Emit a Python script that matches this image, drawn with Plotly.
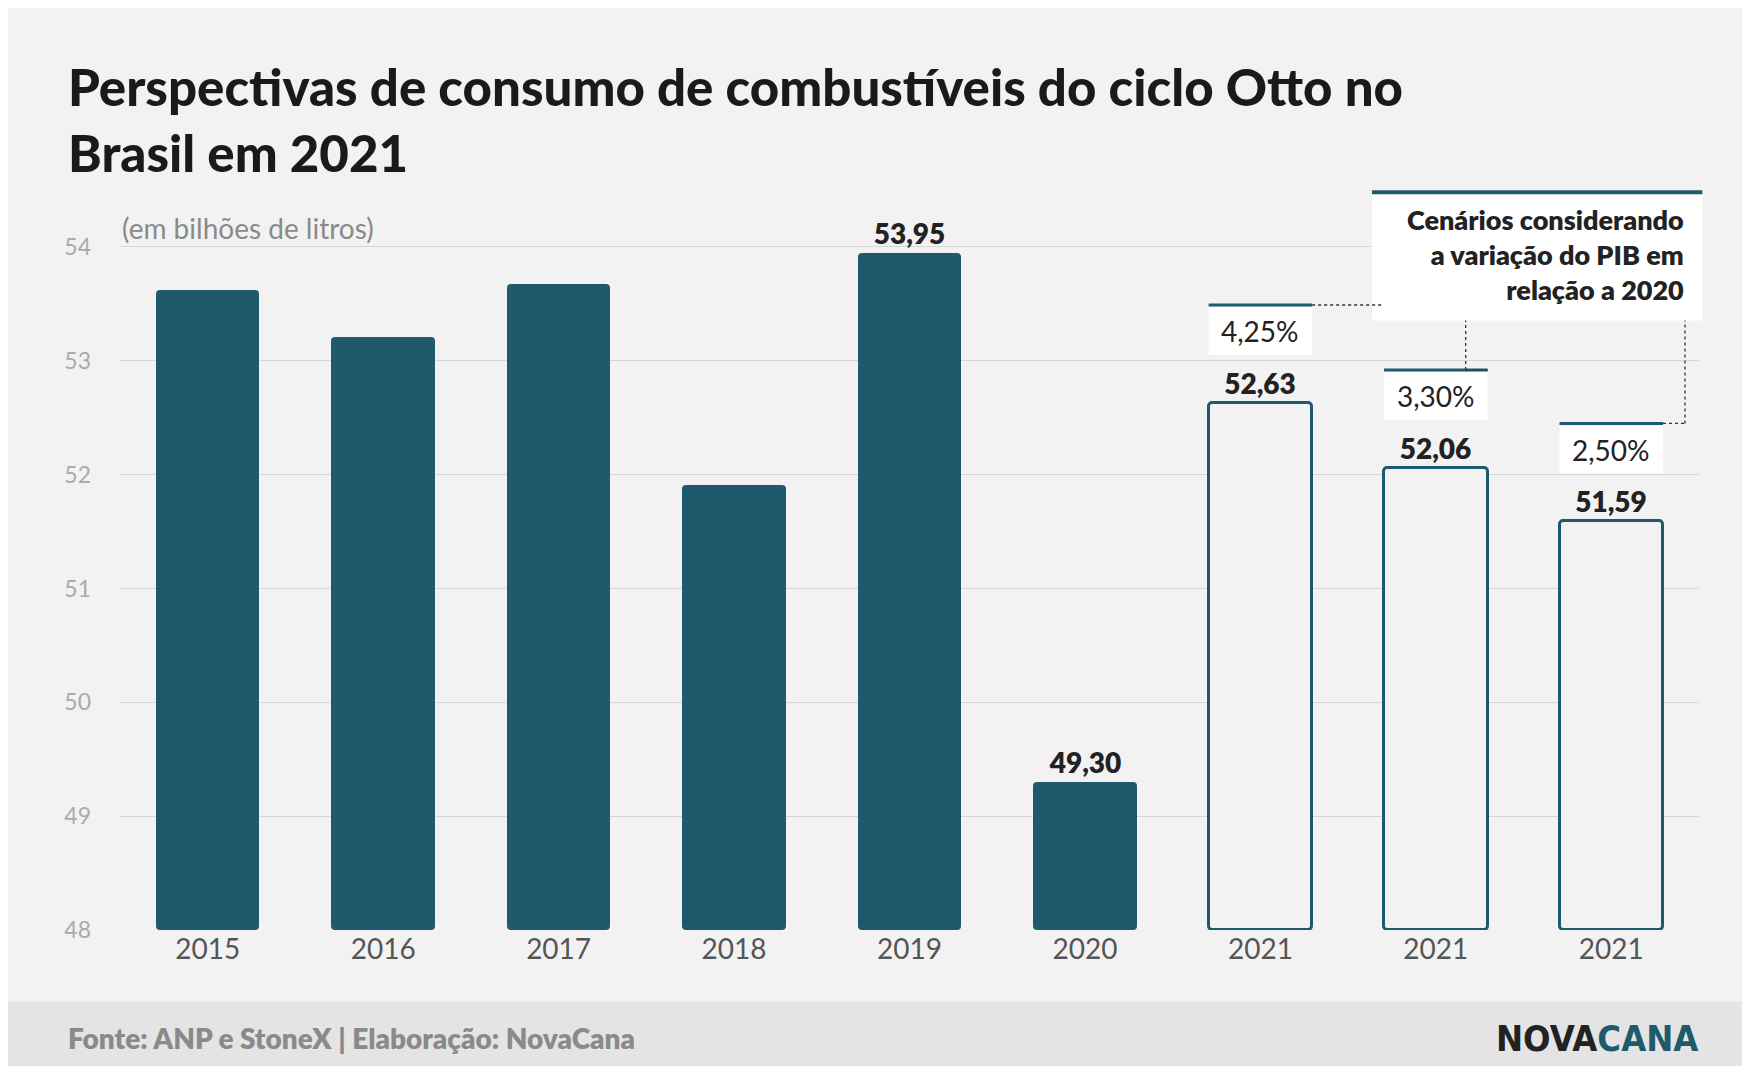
import plotly.graph_objects as go

years = ["2015", "2016", "2017", "2018", "2019", "2020", "2021", "2021", "2021"]
values = [53.62, 53.21, 53.67, 51.91, 53.95, 49.30, 52.63, 52.06, 51.59]
labels = ["", "", "", "", "53,95", "49,30", "52,63", "52,06", "51,59"]
scenarios = ["4,25%", "3,30%", "2,50%"]
yticks = [48, 49, 50, 51, 52, 53, 54]

TEAL = "#1e5a6b"
BG = "#f2f2f2"
W, H = 1750, 1066
L, R, T, B = 112, 59, 182, 144
YMIN, YMAX = 48, 54.5
XMIN, XMAX = -0.5, 8.5
bw = 0.59
x = list(range(len(years)))
solid = [i < 6 for i in x]

def py(yref):  # reference pixel -> paper y
    return (826 - yref) / (826 - 163)
def px(xref):
    return (xref - 100) / 1415

fig = go.Figure()
fig.add_bar(
    x=x, y=[v - YMIN for v in values], base=YMIN, width=bw,
    marker=dict(color=[TEAL if s else BG for s in solid],
                line=dict(color=TEAL, width=[0 if s else 3 for s in solid]),
                cornerradius=4),
    text=labels, textposition="outside", cliponaxis=False,
    textfont=dict(family="Lato", size=28, color="#222", weight=800),
    hoverinfo="skip",
)

shapes, annos = [], []
for k, txt in enumerate(scenarios):
    i = 6 + k
    top = values[i] + 0.84
    shapes.append(dict(type="rect", xref="x", yref="y", x0=i - bw / 2, x1=i + bw / 2,
                       y0=top - 0.42, y1=top, fillcolor="white", line=dict(width=0), layer="above"))
    shapes.append(dict(type="line", xref="x", yref="y", x0=i - bw / 2, x1=i + bw / 2,
                       y0=top + 0.02, y1=top + 0.02, line=dict(color=TEAL, width=3)))
    annos.append(dict(x=i, y=top - 0.21, xref="x", yref="y", text=txt, showarrow=False,
                      font=dict(family="Lato", size=28, color="#222")))

cx0, cx1 = px(1222), px(1518)
shapes.append(dict(type="rect", xref="paper", yref="paper", x0=cx0, x1=cx1, y0=py(280), y1=py(166),
                   fillcolor="white", line=dict(width=0)))
shapes.append(dict(type="line", xref="paper", yref="paper", x0=cx0, x1=cx1, y0=py(165), y1=py(165),
                   line=dict(color=TEAL, width=4)))
annos.append(dict(x=px(1503), y=py(221), xref="paper", yref="paper", xanchor="right", yanchor="middle",
                  align="right", showarrow=False,
                  text="Cenários considerando<br>a variação do PIB em<br>relação a 2020",
                  font=dict(family="Lato", size=27, color="#222", weight=800)))
dash = dict(color="#333", width=1.3, dash="dot")
t0 = values[6] + 0.86
shapes.append(dict(type="line", xref="x", yref="y", x0=6 + bw / 2, x1=6.69, y0=t0, y1=t0, line=dash))
for k, xc in [(7, 7.17), (8, 8.42)]:
    tk = values[k] + 0.86
    shapes.append(dict(type="line", xref="x", yref="y", x0=k + bw / 2, x1=xc, y0=tk, y1=tk, line=dash))
    shapes.append(dict(type="line", xref="x", yref="y", x0=xc, x1=xc, y0=tk, y1=YMIN + (826 - 280) / 102, line=dash))

shapes.append(dict(type="rect", xref="paper", yref="paper", x0=-2, x1=2, y0=py(960), y1=py(890),
                   fillcolor="#e4e4e4", line=dict(width=0), layer="below"))
annos += [
    dict(x=px(52), y=py(923), xref="paper", yref="paper", xanchor="left", yanchor="middle", showarrow=False,
         text="Fonte: ANP e StoneX | Elaboração: NovaCana",
         font=dict(family="Lato", size=28, color="#8a8a8a", weight=800)),
    dict(x=px(1516), y=py(923), xref="paper", yref="paper", xanchor="right", yanchor="middle", showarrow=False,
         text="<span style='color:#222'>NOVA</span><span style='color:#1e5a6b'>CANA</span>",
         font=dict(family="DejaVu Sans Condensed", size=36, weight=800)),
    dict(x=px(52), y=py(100), xref="paper", yref="paper", xanchor="left", yanchor="middle", showarrow=False,
         align="left", text="Perspectivas de consumo de combustíveis do ciclo Otto no<br>Brasil em 2021",
         font=dict(family="Lato", size=51, color="#1a1a1a", weight=900)),
    dict(x=px(100), y=py(197), xref="paper", yref="paper", xanchor="left", yanchor="middle", showarrow=False,
         text="(em bilhões de litros)", font=dict(family="Lato", size=28, color="#8a8a8a")),
]

fig.update_layout(
    width=W, height=H, margin=dict(l=L, r=R, t=T, b=B),
    paper_bgcolor=BG, plot_bgcolor=BG, showlegend=False,
    shapes=shapes, annotations=annos, bargap=0,
    xaxis=dict(range=[XMIN, XMAX], tickvals=x, ticktext=years, showgrid=False, zeroline=False,
               tickfont=dict(family="Lato", size=28, color="#555"), ticks="", fixedrange=True),
    yaxis=dict(range=[YMIN, YMAX], tickvals=yticks, showgrid=True, gridcolor="#d6d6d6", gridwidth=1,
               zeroline=False, tickfont=dict(family="Lato", size=23, color="#aaa"), ticks="",
               ticklabelstandoff=28),
)
fig.write_html("out.html")
